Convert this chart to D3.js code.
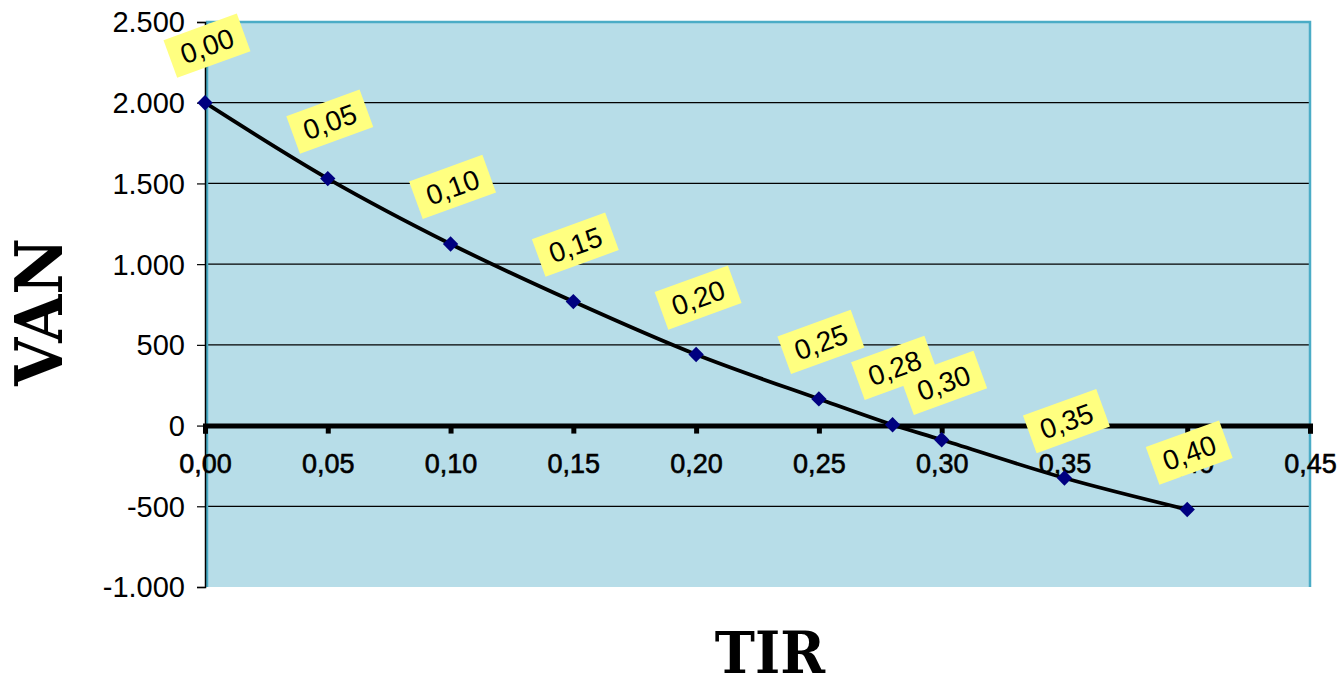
<!DOCTYPE html>
<html><head><meta charset="utf-8">
<script src="https://cdn.jsdelivr.net/npm/d3@7"></script>
<style>body{margin:0;background:#fff}</style>
</head><body>
<svg id="c" width="1341" height="690"></svg>
<script>
const rates = [0.00, 0.05, 0.10, 0.15, 0.20, 0.25, 0.28, 0.30, 0.35, 0.40];
const van = [2000, 1530, 1125, 768, 440, 165, 5, -88, -325, -520];
const pointLabels = ["0,00","0,05","0,10","0,15","0,20","0,25","0,28","0,30","0,35","0,40"];
const xTicks = [0,0.05,0.10,0.15,0.20,0.25,0.30,0.35,0.40,0.45];
const yTicks = [-1000,-500,0,500,1000,1500,2000,2500];

const svg = d3.select("#c");
const L=205, R=1310, T=22, B=587;
const x = d3.scaleLinear().domain([0,0.45]).range([L,R]);
const y = d3.scaleLinear().domain([-1000,2500]).range([B,T]);
const fmtY = v => (v<0?"-":"") + d3.format(",")(Math.abs(v)).replace(/,/g,".");
const fmtX = v => v.toFixed(2).replace(".",",");
const FONT = "Liberation Sans, Arial, sans-serif";

svg.append("rect").attr("x",L).attr("y",T).attr("width",R-L).attr("height",B-T)
  .attr("fill","#b7dde8");
svg.append("g").selectAll("line").data(yTicks.filter(d=>d!==0 && d!==-1000 && d!==2500)).join("line")
  .attr("x1",L).attr("x2",R).attr("y1",d=>y(d)).attr("y2",d=>y(d))
  .attr("stroke","#000").attr("stroke-width",1.2);
svg.append("path").attr("d",`M${L+2},${B}V${T}H${R}V${B}`).attr("fill","none")
  .attr("stroke","#4bacc6").attr("stroke-width",2.5);
const ya = svg.append("g").attr("transform",`translate(${L},0)`)
  .call(d3.axisLeft(y).tickValues(yTicks).tickFormat(fmtY).tickSize(8).tickPadding(12));
ya.select(".domain").attr("stroke","#000").attr("stroke-width",1.5);
ya.selectAll("line").attr("stroke","#000").attr("stroke-width",1.2);
ya.selectAll("text").attr("font-family",FONT).attr("font-size",29).attr("fill","#000")
  .attr("dy","0.34em");
const xa = svg.append("g").attr("transform",`translate(0,${y(0)})`)
  .call(d3.axisBottom(x).tickValues(xTicks).tickFormat(fmtX).tickSize(8).tickPadding(20));
xa.select(".domain").attr("stroke","#000").attr("stroke-width",5);
xa.selectAll(".tick line").attr("stroke","#000").attr("stroke-width",5);
xa.selectAll("text").attr("font-family",FONT).attr("font-size",27)
  .attr("fill","#000").attr("stroke","#000").attr("stroke-width",0.6);

const pts = rates.map((r,i)=>({r, v:van[i], lab:pointLabels[i]}));
svg.append("path").datum(pts)
  .attr("d", d3.line().x(d=>x(d.r)).y(d=>y(d.v)).curve(d3.curveCatmullRom.alpha(0.5)))
  .attr("fill","none").attr("stroke","#000").attr("stroke-width",3.8);
svg.append("g").selectAll("path").data(pts).join("path")
  .attr("d", d3.symbol().type(d3.symbolDiamond2).size(150))
  .attr("transform",d=>`translate(${x(d.r)},${y(d.v)})`).attr("fill","#000080");

const lg = svg.append("g").selectAll("g").data(pts).join("g")
  .attr("transform",d=>`translate(${x(d.r)+2},${y(d.v)-57}) rotate(-20)`);
lg.append("rect").attr("x",-39).attr("y",-20).attr("width",78).attr("height",40).attr("fill","#ffff80");
lg.append("text").attr("text-anchor","middle").attr("dy","0.36em")
  .attr("font-family",FONT).attr("font-size",28).attr("fill","#000")
  .text(d=>d.lab);

svg.append("text").attr("transform","translate(62,312) rotate(-90) scale(1,1.05)").attr("text-anchor","middle")
  .attr("font-family","DejaVu Serif, serif").attr("font-weight","bold").attr("font-size",62)
  .attr("fill","#000").text("VAN");
svg.append("text").attr("transform","translate(770,673) scale(1,1.08)").attr("text-anchor","middle")
  .attr("font-family","DejaVu Serif, serif").attr("font-weight","bold").attr("font-size",54)
  .attr("fill","#000").text("TIR");
</script>
</body></html>
